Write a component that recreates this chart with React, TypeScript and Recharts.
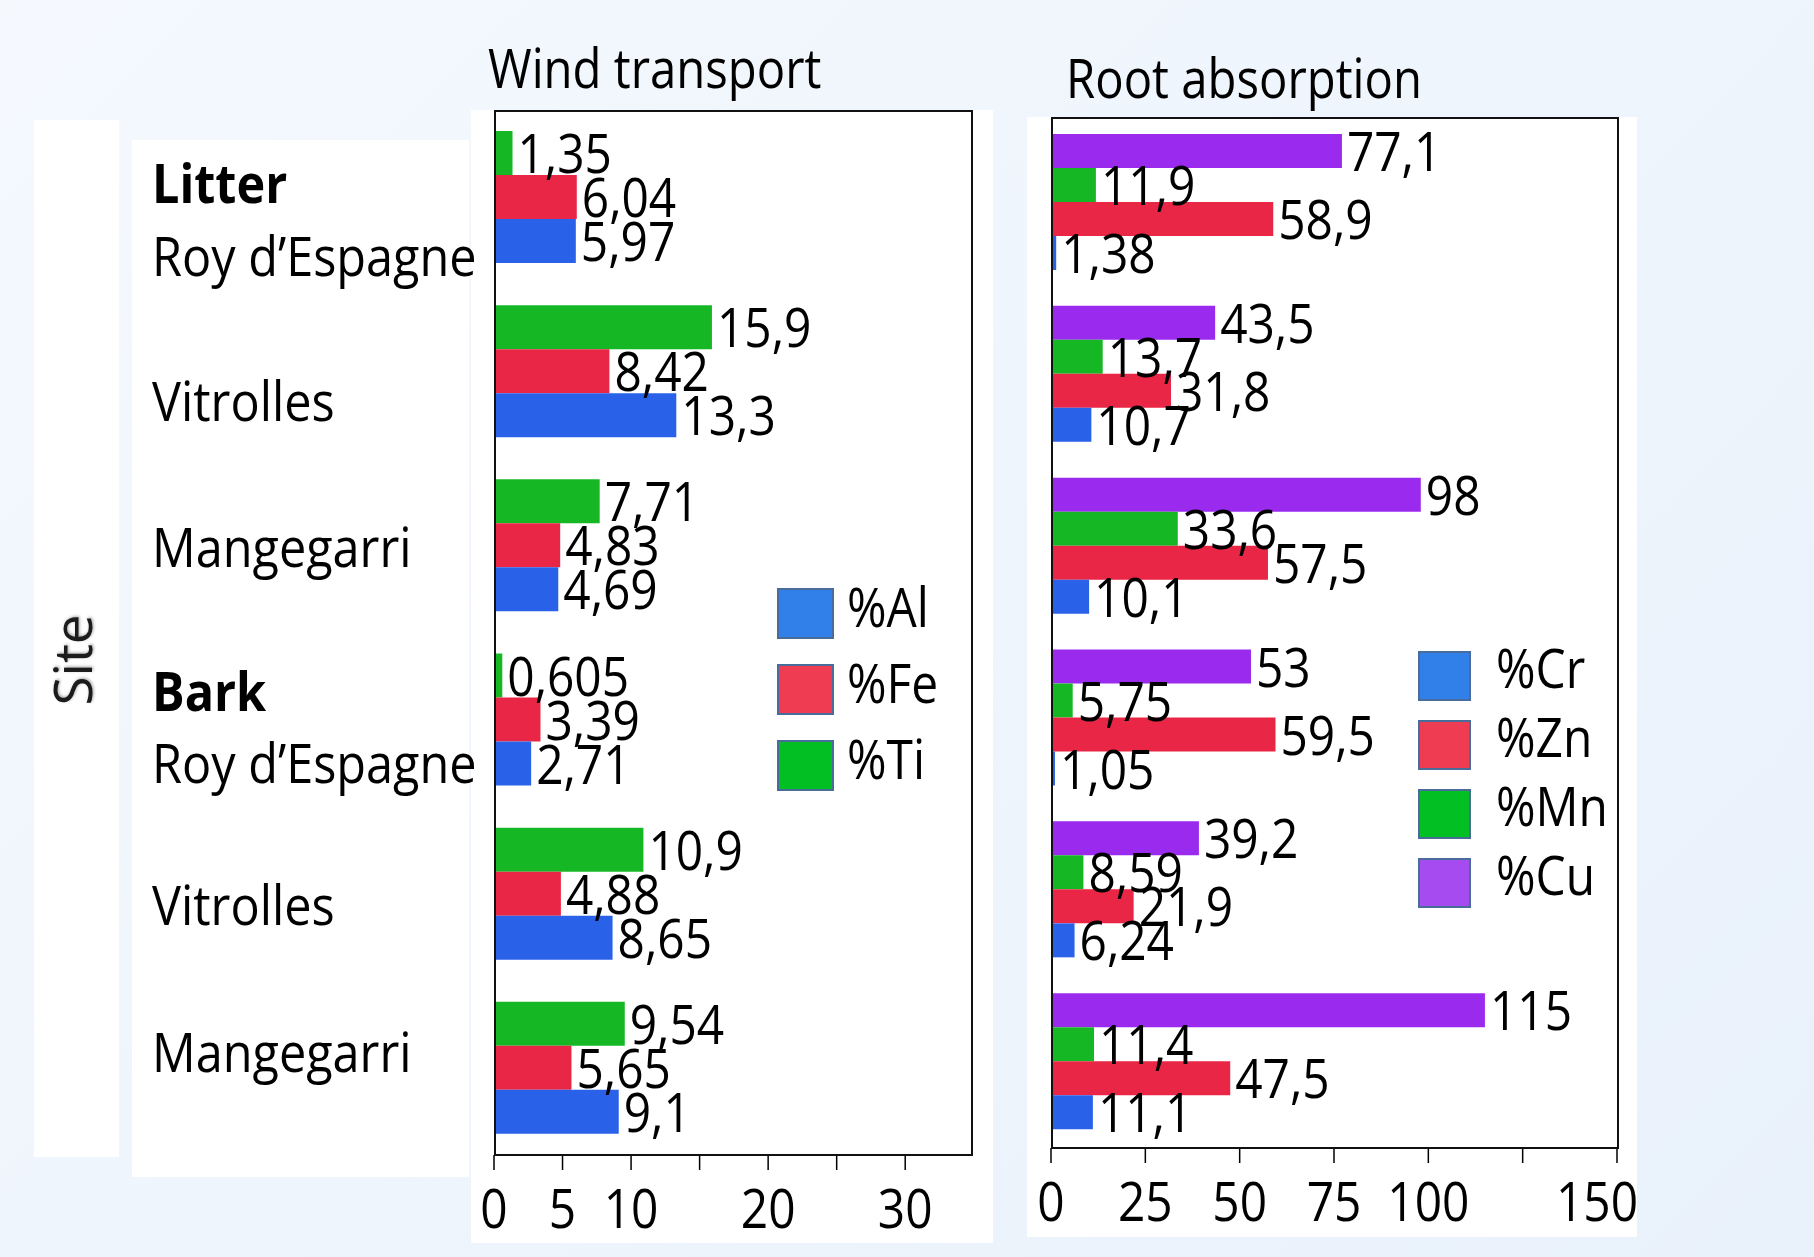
import React from "react";
import { BarChart, Bar, XAxis, YAxis, LabelList, Legend } from "recharts";

// rows, top to bottom
const sampleTypes = ["Litter", "", "", "Bark", "", ""];
const sites = ["Roy d’Espagne", "Vitrolles", "Mangegarri", "Roy d’Espagne", "Vitrolles", "Mangegarri"];

// Wind transport (%)
const ti = [1.35, 15.9, 7.71, 0.605, 10.9, 9.54];
const fe = [6.04, 8.42, 4.83, 3.39, 4.88, 5.65];
const al = [5.97, 13.3, 4.69, 2.71, 8.65, 9.1];

// Root absorption (%)
const cu = [77.1, 43.5, 98, 53, 39.2, 115];
const mn = [11.9, 13.7, 33.6, 5.75, 8.59, 11.4];
const zn = [58.9, 31.8, 57.5, 59.5, 21.9, 47.5];
const cr = [1.38, 10.7, 10.1, 1.05, 6.24, 11.1];

const windTicks = [0, 5, 10, 15, 20, 25, 30];
const windTickLabels = [0, 5, 10, 20, 30];
const rootTicks = [0, 25, 50, 75, 100, 125, 150];
const rootTickLabels = [0, 25, 50, 75, 100, 150];

const windLegendOrder = ["al", "fe", "ti"];
const rootLegendOrder = ["cr", "zn", "mn", "cu"];

const windData = sites.map((_, i) => ({ key: "w" + i, ti: ti[i], fe: fe[i], al: al[i] }));
const rootData = sites.map((_, i) => ({ key: "r" + i, cu: cu[i], mn: mn[i], zn: zn[i], cr: cr[i] }));

// the site names were hand placed in the original, so they sit a bit off the row centres
const siteBaselineDy = [79, 50, 22, 63, 31, 4];
const headerBaselineDy = [6, 0, 0, -9, 0, 0];

const FONT = "'Open Sans', 'Noto Sans', sans-serif";
const SX = 0.87;

const BAR = { blue: "#2962E8", red: "#E92645", green: "#15B824", purple: "#9B2AEF" };
const LEG: Record<string, string> = {
  al: "#3180EA", fe: "#F03C52", ti: "#02C024",
  cr: "#3180EA", zn: "#F03C52", mn: "#02C024", cu: "#A64BF0",
};

const fmt = (v: number) => String(v).replace(".", ",");

const ValueLabel = (props: any) => {
  const { x, y, width, height, value } = props;
  const tx = Number(x) + Number(width) + 5;
  const ty = Number(y) + Number(height) / 2 + 20;
  return (
    <text transform={`translate(${tx},${ty}) scale(${SX},1)`} fontFamily={FONT} fontSize={55} fill="#000">
      {fmt(value)}
    </text>
  );
};

const SiteTick = (props: any) => {
  const { y, payload } = props;
  const i = payload.index;
  const header = sampleTypes[i];
  const txt = (ty: number, s: string, bold = false) => (
    <text transform={`translate(152,${ty}) scale(0.9,1)`} fontFamily={FONT} fontSize={54}
      fontWeight={bold ? 700 : 400} fill="#000">{s}</text>
  );
  return (
    <g>
      {header ? txt(y + headerBaselineDy[i], header, true) : null}
      {txt(y + siteBaselineDy[i], sites[i])}
    </g>
  );
};

const makeXTick = (labels: number[], lastDx = 0) => (props: any) => {
  const { x, y, payload } = props;
  if (!labels.includes(payload.value)) return <g />;
  const dx = payload.value === labels[labels.length - 1] ? lastDx : 0;
  return (
    <text transform={`translate(${x + dx},${y + 58}) scale(${SX},1)`} textAnchor="middle"
      fontFamily={FONT} fontSize={55} fill="#000">{payload.value}</text>
  );
};

const makeLegend = (order: string[], pitch: number, boxW: number, boxH: number, textX: number, textY: number) =>
  (props: any) => {
    const items = order.map((k) => (props.payload || []).find((p: any) => p.dataKey === k)).filter(Boolean);
    return (
      <svg width={260} height={pitch * items.length} style={{ overflow: "visible" }}>
        {items.map((p: any, i: number) => (
          <g key={p.dataKey} transform={`translate(0,${i * pitch})`}>
            <rect x={1} y={1} width={boxW} height={boxH} fill={LEG[p.dataKey]} stroke="#4A6C9B" strokeWidth={2} />
            <text transform={`translate(${textX},${textY}) scale(${SX},1)`} fontFamily={FONT} fontSize={55} fill="#000">
              {p.value}
            </text>
          </g>
        ))}
      </svg>
    );
  };

const panel = (l: number, t: number, r: number, b: number, bg = "#fff") => (
  <div style={{ position: "absolute", left: l, top: t, width: r - l, height: b - t, background: bg }} />
);

const box = (l: number, t: number, r: number, b: number) => (
  <div style={{
    position: "absolute", left: l, top: t, width: r - l, height: b - t,
    border: "2px solid #111", boxSizing: "border-box", pointerEvents: "none",
  }} />
);

export default function App() {
  return (
    <div style={{ position: "absolute", left: 0, top: 0, width: 1814, height: 1257, overflow: "hidden",
      background: "linear-gradient(135deg, #F5F9FE 0%, #EDF4FC 60%, #E9F1FB 100%)" }}>
      {panel(34, 120, 119, 1157)}
      {panel(132, 140, 469, 1177)}
      {panel(471, 110, 993, 1243)}
      {panel(1027, 117, 1637, 1237)}

      <div style={{ position: "absolute", left: 0, top: 0 }}>
        <BarChart width={1000} height={1257} data={windData} layout="vertical"
          margin={{ top: 110, right: 29, bottom: 22, left: 0 }} barCategoryGap={21} barGap={0}>
          <XAxis type="number" domain={[0, 34.8]} ticks={windTicks} interval={0} allowDataOverflow
            axisLine={false} tickLine={{ stroke: "#000", strokeWidth: 1.5 }} tickSize={15} tickMargin={0}
            height={80} tick={makeXTick(windTickLabels)} />
          <YAxis type="category" dataKey="key" width={494} axisLine={false} tickLine={false}
            interval={0} tick={SiteTick} />
          <Legend layout="vertical" align="center" verticalAlign="middle"
            wrapperStyle={{ left: 777, top: 588, width: 260, height: 240 }}
            content={makeLegend(windLegendOrder, 76, 55, 49, 70, 39)} />
          <Bar dataKey="ti" name="%Ti" fill={BAR.green} isAnimationActive={false}>
            <LabelList dataKey="ti" content={ValueLabel} />
          </Bar>
          <Bar dataKey="fe" name="%Fe" fill={BAR.red} isAnimationActive={false}>
            <LabelList dataKey="fe" content={ValueLabel} />
          </Bar>
          <Bar dataKey="al" name="%Al" fill={BAR.blue} isAnimationActive={false}>
            <LabelList dataKey="al" content={ValueLabel} />
          </Bar>
        </BarChart>
      </div>

      <div style={{ position: "absolute", left: 1000, top: 0 }}>
        <BarChart width={814} height={1257} data={rootData} layout="vertical"
          margin={{ top: 117, right: 197, bottom: 29, left: 51 }} barCategoryGap={17} barGap={0}>
          <XAxis type="number" domain={[0, 150]} ticks={rootTicks} interval={0} allowDataOverflow
            axisLine={false} tickLine={{ stroke: "#000", strokeWidth: 1.5 }} tickSize={15} tickMargin={0}
            height={80} tick={makeXTick(rootTickLabels, -20)} />
          <YAxis type="category" dataKey="key" hide width={0} />
          <Legend layout="vertical" align="center" verticalAlign="middle"
            wrapperStyle={{ left: 418, top: 651, width: 260, height: 280 }}
            content={makeLegend(rootLegendOrder, 69, 51, 48, 78, 37)} />
          <Bar dataKey="cu" name="%Cu" fill={BAR.purple} isAnimationActive={false}>
            <LabelList dataKey="cu" content={ValueLabel} />
          </Bar>
          <Bar dataKey="mn" name="%Mn" fill={BAR.green} isAnimationActive={false}>
            <LabelList dataKey="mn" content={ValueLabel} />
          </Bar>
          <Bar dataKey="zn" name="%Zn" fill={BAR.red} isAnimationActive={false}>
            <LabelList dataKey="zn" content={ValueLabel} />
          </Bar>
          <Bar dataKey="cr" name="%Cr" fill={BAR.blue} isAnimationActive={false}>
            <LabelList dataKey="cr" content={ValueLabel} />
          </Bar>
        </BarChart>
      </div>

      {box(494, 110, 973, 1156)}
      {box(1051, 117, 1619, 1149)}

      <svg width={1814} height={1257} style={{ position: "absolute", left: 0, top: 0, pointerEvents: "none" }}>
        <defs>
          <filter id="soft" x="-20%" y="-20%" width="140%" height="140%">
            <feDropShadow dx="1" dy="1" stdDeviation="1.5" floodColor="#000" floodOpacity="0.35" />
          </filter>
        </defs>
        <text transform={`translate(488,88) scale(0.86,1)`} fontFamily={FONT} fontSize={55} fill="#000">
          Wind transport
        </text>
        <text transform={`translate(1066,98) scale(0.86,1)`} fontFamily={FONT} fontSize={55} fill="#000">
          Root absorption
        </text>
        <text transform="translate(92,660) rotate(-90)" textAnchor="middle" fontFamily={FONT} fontSize={53}
          fill="#1a1a1a" filter="url(#soft)">Site</text>
      </svg>
    </div>
  );
}
